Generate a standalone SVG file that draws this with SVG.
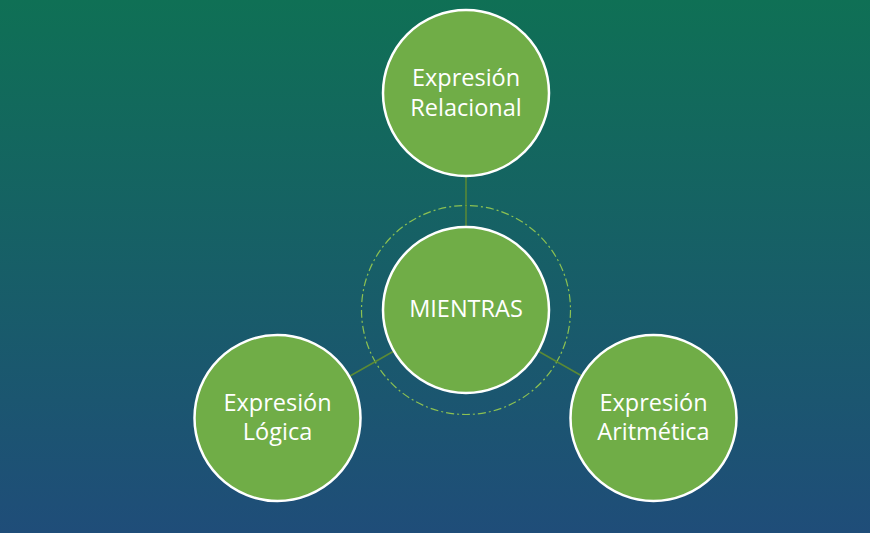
<svg xmlns="http://www.w3.org/2000/svg" width="870" height="533" viewBox="0 0 870 533">
<defs>
<linearGradient id="bg" x1="0" y1="0" x2="0" y2="1">
<stop offset="0" stop-color="#0f7055"/>
<stop offset="1" stop-color="#1f4d79"/>
</linearGradient>
<style>
.node{fill:#70ad47;stroke:#ffffff;stroke-width:2.5}
.lbl{font-family:"Open Sans","Liberation Sans",sans-serif;font-size:23.5px;fill:#ffffff;text-anchor:middle}
.conn{stroke:#5b8a35;stroke-width:1.5;fill:none}
.ring{fill:none;stroke:#8cc152;stroke-width:1.2;stroke-dasharray:8 3 2 3}
</style>
</defs>
<rect x="0" y="0" width="870" height="533" fill="url(#bg)"/>
<circle cx="466" cy="310" r="104.5" class="ring"/>
<g id="connectors">
<line x1="466" y1="176" x2="466" y2="227" class="conn"/>
<line x1="350" y1="376" x2="394" y2="351" class="conn"/>
<line x1="582" y1="376" x2="538" y2="351" class="conn"/>
</g>
<g id="relacional">
<circle cx="466" cy="93" r="83" class="node"/>
<text x="466" y="86" class="lbl">Expresión</text>
<text x="466" y="116" class="lbl">Relacional</text>
</g>
<g id="mientras">
<circle cx="466" cy="310" r="83" class="node"/>
<text x="466" y="317" class="lbl">MIENTRAS</text>
</g>
<g id="logica">
<circle cx="277.5" cy="418" r="83" class="node"/>
<text x="277.5" y="411" class="lbl">Expresión</text>
<text x="277.5" y="440" class="lbl">Lógica</text>
</g>
<g id="aritmetica">
<circle cx="653.5" cy="418" r="83" class="node"/>
<text x="653.5" y="411" class="lbl">Expresión</text>
<text x="653.5" y="440" class="lbl">Aritmética</text>
</g>
</svg>
